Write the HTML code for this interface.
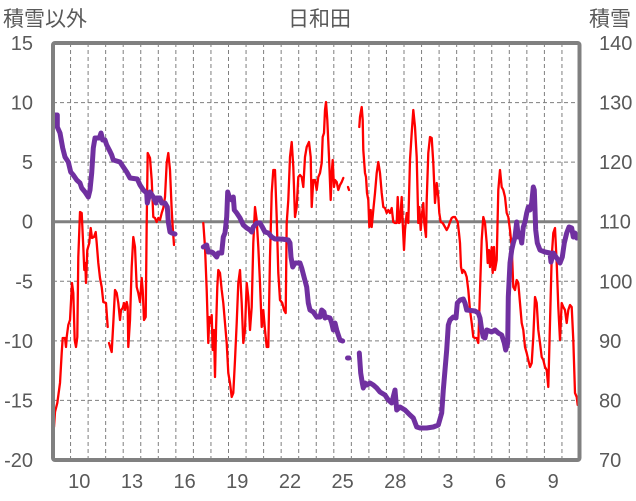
<!DOCTYPE html>
<html><head><meta charset="utf-8"><style>
html,body{margin:0;padding:0;background:#fff;}
svg{display:block;}
text{font-family:"Liberation Sans","Noto Sans CJK JP",sans-serif;fill:#595959;}
.cjk{font-family:"Noto Sans CJK JP","Liberation Sans",sans-serif;font-size:21px;}
.t{font-size:20px;}
</style></head><body>
<svg width="636" height="501" viewBox="0 0 636 501" xmlns="http://www.w3.org/2000/svg">
<g stroke="#7f7f7f" stroke-width="1" stroke-dasharray="4,3" fill="none">
<path d="M53 102.6H580M53 162.1H580M53 281.3H580M53 340.9H580M53 400.4H580"/>
<path d="M70.55 43V460M88.1 43V460M105.65 43V460M123.2 43V460M140.75 43V460M158.3 43V460M175.85 43V460M193.4 43V460M210.95 43V460M228.5 43V460M246.05 43V460M263.6 43V460M281.15 43V460M298.7 43V460M316.25 43V460M333.8 43V460M351.35 43V460M368.9 43V460M386.45 43V460M404 43V460M421.55 43V460M439.1 43V460M456.65 43V460M474.2 43V460M491.75 43V460M509.3 43V460M526.85 43V460M544.4 43V460M561.95 43V460"/>
</g>
<line x1="53" y1="221.7" x2="580" y2="221.7" stroke="#808080" stroke-width="3"/>
<g fill="none" stroke="#ff0000" stroke-width="2.3" stroke-linejoin="round" stroke-linecap="round">
<polyline points="54,427 55,412 57.3,403 60,383 61.7,353 62.7,338 65,338 66,347 66.7,337 68.3,325 70,320 72,283 73.3,293 74.7,340 76,347 77.3,337 78.3,257 80,212 81.7,213 83.3,247 84.3,270 85.3,263 86,283 87.3,250 89.3,243 90.7,228 92,238 94,237 95.7,232 96.7,243 98.3,263 100,278 101.7,287 103.3,302 106,303 107.7,327"/>
<polyline points="109,343 111.7,352 113.3,323 115,290 116.7,293 118.3,303 120,320 121,310 122.7,308 124,303 125,310 126.7,302 127.7,307 128.3,347 130,320 131.7,267 133.3,237 135,247 136.7,287 138.3,293 140,302 141.7,278 142.7,290 144,320 145.7,317 146.7,223 147.7,153 150,158 151.7,180 153.3,217 155,218 156.7,222 158.3,218 160,220 161.7,213 163.3,208 165,197 166.7,163 168.3,153 170,170 171.7,210 172.7,227 174,245"/>
<polyline points="203.3,223 205,247 206.7,290 208.3,343 209.3,317 210.7,323 211.7,315 212.7,350 214,330 215,377 216,330 217.3,287 218.3,270 220,273 221.7,290 223.3,303 225,323 226.7,343 228.3,373 230,383 231.7,397 233.3,393 235,360 236.7,323 238.3,283 240,270 241.7,303 243.3,343 245,330 246.7,283 248.3,297 250,330 251.7,307 253.3,243 255,207 256.7,220 258.3,247 260,283 261.7,327 263.3,310 265,330 266.7,347 268.3,347 270,257 271.7,193 273.3,170 275,170 276.7,217 278.3,273 280,300 282.3,303 284,310 285.7,313 286.7,223 288.3,200 290,157 291.7,142 293.3,167 295,217 296.7,207 298.3,177 300,175 301.7,177 303.3,187 305,157 306.7,147 309,142 310.7,157 311.7,207 313.3,180 315,180 316.7,190 318.3,177 320,173 321.7,163 322.7,137 324,133 325,110 326,102 327.3,120 329,157 330.7,200 331.7,173 332.7,160 334,187 335,180 336.7,182 338.3,190 340,185 341.7,182 343.3,178"/>
<polyline points="348,187 349,190"/>
<polyline points="359.3,127 360,117 361.7,107 362.7,120 363.3,150 365,173 366,177 367,193 368.3,200 369.3,227 370.7,210 371.7,227 373.3,210 375,193 376.7,173 378.3,162 380,173 381.7,193 383.3,207 385,208 386.7,213 388.3,210 390,213 391.7,208 393.3,222 395,223 396.7,223 397.7,197 399,223 400,222 401.7,197 402.7,223 404,250 405,230 406.7,213 408.3,223 410,160 411.7,133 413.3,110 415,127 416.7,157 418.3,223 419.3,207 420.7,230 421.7,217 423.3,203 424.3,223 426,237 426.7,200 428.3,153 430,137 431.7,138 433.3,163 435,203 436.7,183 438.3,197 439.3,213 440.7,222 442.7,223 445,227 446.7,230 448.3,227 450,222 451.7,218 453.3,217 455,217 457.7,222 459,233 460,243 461,267 462.3,273 463.3,270 465,272 466.7,277 468.3,290 470,310 471.7,323 473.3,337 475,338 476.7,338 478.3,343 480,290 481.7,240 483.3,217 485,223 486.7,243 487.7,263 489,250 490,267 491.7,247 492.7,273 494,247 495,270 496.7,260 498.3,190 500,170 501.7,187 503.3,190 505,197 506.7,213 508.3,217 510,230 511.7,247 513.3,287 515,290 516.7,280 518.3,283 520,303 521.7,323 523.3,330 525,347 526.7,353 528.3,360 530,367 531.7,363 533.3,337 535,297 536.7,303 538.3,330 540,343 541.7,357 543.3,360 545,367 546.7,370 548.3,387 550,323 551.7,257 553.3,233 555,228 556.7,263 558.3,307 560,340 561.7,303 563.3,307 565,310 566.7,323 568.3,310 570,305 571.7,307 573.3,340 575,393 576.7,397 577.7,405"/>
</g>
<g fill="none" stroke="#7030a0" stroke-width="5" stroke-linejoin="round" stroke-linecap="round">
<polyline points="55,115 57.3,115 57.3,127 60,133 62.7,148 65,157 68.3,162 70.7,172 73.3,175 76.7,180 80,183 81.7,188 85,192 88.3,197 90,190 91.7,173 93.3,148 95,138 99.3,138 101,133 102.7,140 105,140 106.7,145 109.3,150 111.7,155 113.3,160 120,162 123.3,167 126.7,172 130,178 137.3,179 140,185 143.3,190 146.7,193 147.3,203 150,192 153.3,197 156,203 156.7,198 160,198 161.7,203 165,203 167.3,207 168.3,222 170,232 171.7,233 175,234"/>
<polyline points="203.3,247 206.7,245 208.3,252 211.7,252 213.3,253 216.7,257 218.3,253 221.7,253 223.3,237 225,233 226.7,217 227.7,192 229.3,197 231.7,200 233.3,197 234.3,210 236.7,213 240,218 243.3,225 246.7,228 250,230 251.7,232 253.3,227 256.7,223 260,223 262.3,227 265,232 268.3,233 271.7,237 275,239 281.7,239 288.3,240 290,243 291,257 292.7,267 295,263 300,263 301.7,268 304.3,278 306.7,287 308.3,303 310,310 313.3,312 316.7,317 320,317 321.7,310 324,312 325,318 326.7,317 330,318 331.7,323 333.3,330 335,323 336.7,330 338.3,335 340,340 342.7,341"/>
<polyline points="347.5,358 349,358"/>
<polyline points="359.3,353 360.7,373 362.3,383 363.3,388 365,383 366.7,385 370,383 373.3,385 376.7,388 380,392 385,395 388.3,400 391.7,403 395,390 396.7,410 400,407 405,410 410,415 413.3,418 416.7,427 420,428 426.7,428 433.3,427 438.3,425 441.7,413 443.3,390 445,370 446.7,350 448.3,325 450,320 453.3,317 456,318 457.3,303 460,300 463.3,299 465,303 466.7,310 475,311 478.3,313 480,318 481.7,330 483.3,337 485,338 486.7,330 491.7,332 495,330 498.3,333 501.7,335 504.3,343 505.7,350 507.7,343 508.3,297 510,263 511.7,250 513.3,243 515,237 516.7,222 518.3,237 520,233 521.7,243 523.3,227 525,222 526.7,213 528.3,207 530,210 531.7,203 533.3,187 534.3,190 535.7,230 537.3,243 540,250 545,252 550,253 551,262 553.3,253 556.7,258 560,263 562.3,257 564.3,243 566.7,233 569,227 571.7,228 573.3,237 575,233 576.7,238 579,237"/>
</g>
<rect x="53" y="43" width="526.5" height="417" fill="none" stroke="#808080" stroke-width="4" rx="2"/>
<text class="cjk" x="3" y="26">積雪以外</text>
<text class="cjk" x="319.5" y="26" text-anchor="middle">日和田</text>
<text class="cjk" x="589" y="26">積雪</text>
<g class="t" text-anchor="end">
<text x="33" y="50">15</text>
<text x="33" y="109.6">10</text>
<text x="33" y="169.1">5</text>
<text x="33" y="228.7">0</text>
<text x="33" y="288.3">-5</text>
<text x="33" y="347.9">-10</text>
<text x="33" y="407.4">-15</text>
<text x="33" y="467">-20</text>
</g>
<g class="t">
<text x="599" y="50">140</text>
<text x="599" y="109.6">130</text>
<text x="599" y="169.1">120</text>
<text x="599" y="228.7">110</text>
<text x="599" y="288.3">100</text>
<text x="599" y="347.9">90</text>
<text x="599" y="407.4">80</text>
<text x="599" y="467">70</text>
</g>
<g class="t" text-anchor="middle">
<text x="79.3" y="488">10</text>
<text x="132" y="488">13</text>
<text x="184.6" y="488">16</text>
<text x="237.3" y="488">19</text>
<text x="290" y="488">22</text>
<text x="342.6" y="488">25</text>
<text x="395.3" y="488">28</text>
<text x="447.9" y="488">3</text>
<text x="500.6" y="488">6</text>
<text x="553.2" y="488">9</text>
</g>
</svg>
</body></html>
